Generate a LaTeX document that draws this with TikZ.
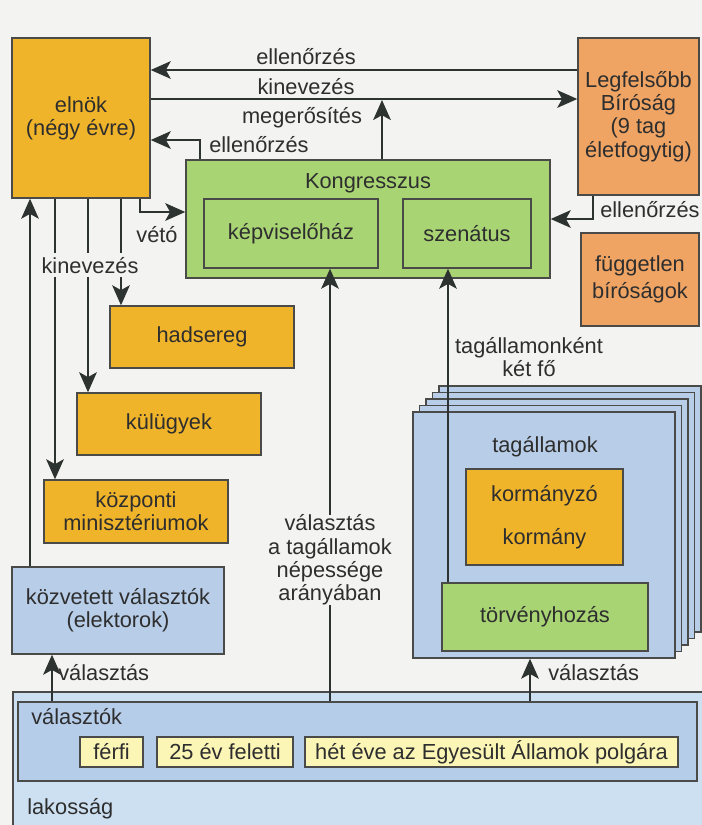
\documentclass[tikz,border=0pt]{standalone}
\usepackage{fontspec}
\setmainfont{Liberation Sans}
\usetikzlibrary{arrows.meta,fit,calc,positioning}

\definecolor{bgcol}{HTML}{F3F3F1}
\definecolor{boxline}{HTML}{4A4A48}
\definecolor{arline}{HTML}{2C3330}
\definecolor{txtcol}{HTML}{2E2E2E}
\definecolor{elyel}{HTML}{F0B42A}
\definecolor{salmon}{HTML}{EFA464}
\definecolor{congrn}{HTML}{A8D474}
\definecolor{stblue}{HTML}{B8CEE8}
\definecolor{lakblue}{HTML}{CCE0F2}
\definecolor{valblue}{HTML}{B6CDEA}
\definecolor{pale}{HTML}{FBF5B6}

\tikzset{
	box/.style={draw=boxline, line width=1pt, inner sep=0pt},
	yel/.style={box, fill=elyel},
	sal/.style={box, fill=salmon},
	grn/.style={box, fill=congrn},
	blu/.style={box, fill=stblue},
	lakbox/.style={box, fill=lakblue},
	valbox/.style={box, fill=valblue},
	palebox/.style={box, fill=pale},
	stackbox/.style={draw=boxline, line width=1pt, fill=stblue},
	lbl/.style={inner sep=0pt, align=center, text=txtcol},
	in/.style={label={[lbl]center:#1}},
	ln/.style={draw=arline, line width=1.4pt},
	arr/.style={ln, -{Stealth[length=5mm,width=4.4mm,inset=1.2mm]}}
}

\begin{document}
\begin{tikzpicture}[x=0.025cm,y=-0.025cm,font=\fontsize{15.5}{16.5}\selectfont]
	\fill[bgcol] (0,0) rectangle (702,825);
	\useasboundingbox (0,0) rectangle (702,825);

	% population
	\node[lakbox, fit={(13,692) (706,830)}]		(lak) {};
	\node[lbl, anchor=base west] at (27,814)		{lakosság};
	\node[valbox, fit={(18,702) (697,781)}]		(valasztok) {};
	\node[lbl, anchor=base west] at (31,724)		{választók};
	\node[palebox, fit={(80,737) (143,767)}, in=férfi]			(ferfi) {};
	\node[palebox, fit={(157,737) (293,767)}, in=25 év feletti]	(kor) {};
	\node[palebox, fit={(305,737) (678,767)}, in=hét éve az Egyesült Államok polgára]	(polgar) {};

	% president
	\node[yel, fit={(12,38) (150,198)}, in={elnök\\(négy évre)}]		(elnok) {};
	\node[yel, fit={(110,306) (294,368)}, in=hadsereg]				(hadsereg) {};
	\node[yel, fit={(77,393) (261,455)}, in=külügyek]				(kulugy) {};
	\node[yel, fit={(44,480) (228,543)}, in={központi\\minisztériumok}]	(kozp) {};
	\node[blu, fit={(12,567) (224,654)}, in={közvetett választók\\(elektorok)}]	(elektor) {};

	% congress
	\node[grn, fit={(186,160) (550,278)}]						(kongr) {};
	\node[lbl] at (368,183)										{Kongresszus};
	\node[grn, fit={(204,199) (378,268)}, in=képviselőház]	(kepv) {};
	\node[grn, fit={(403,199) (531,268)}, in=szenátus]		(szen) {};

	% courts
	\node[sal, fit={(578,38) (699,195)}, in={Legfelsőbb\\Bíróság\\(9 tag\\életfogytig)}]	(legf) {};
	\node[sal, fit={(581,233) (699,326)}, in={független\\[3pt]bíróságok}]	(fugg) {};

	% states
	\foreach \k in {4,3,2,1}
		\draw[stackbox] (413+6.5*\k,412-6.5*\k) rectangle (675+6.5*\k,658-6.5*\k);
	\node[blu, fit={(413,412) (675,658)}]	(tag) {};
	\node[lbl] at (545,447)					{tagállamok};
	\node[yel, fit={(466,469) (623,565)}, in={kormányzó\\[14pt]kormány}]	(korm) {};
	\node[grn, fit={(442,583) (648,651)}, in=törvényhozás]	(torv) {};

	% connectors
	\coordinate (meg) at (382,100);
	\node[lbl] (arany) at (330,560) {választás\\a tagállamok\\népessége\\arányában};
	\node[lbl] (ketfo) at (529,357) {tagállamonként\\két fő};

	\draw[arr] (legf.west |- 0,70) -- (elnok.east |- 0,70);
	\draw[arr] (elnok.east |- 0,99) -- (legf.west |- 0,99);
	\draw[arr] (kongr.north -| meg) -- (meg);
	\draw[arr] (kongr.north -| 200,0) |- (elnok.east |- 0,140);
	\draw[arr] (elnok.south -| 140,0) |- (kongr.west |- 0,212);
	\draw[arr] (legf.south -| 593,0) |- (kongr.east |- 0,219);
	\draw[arr] (elnok.south -| 121,0) -- (hadsereg.north -| 121,0);
	\draw[arr] (elnok.south -| 88,0) -- (kulugy.north -| 88,0);
	\draw[arr] (elnok.south -| 55,0) -- (kozp.north -| 55,0);
	\draw[arr] (elektor.north -| 30,0) -- (elnok.south -| 30,0);
	\draw[arr] (valasztok.north -| 52,0) -- (elektor.south -| 52,0);
	\draw[ln] (valasztok.north -| arany.south) -- (arany.south);
	\draw[arr] (arany.north) -- (kepv.south -| arany.north);
	\draw[arr] (torv.north -| 448,0) -- (szen.south -| 448,0);
	\draw[arr] (valasztok.north -| 530,0) -- (tag.south -| 530,0);

	% labels
	\node[lbl, anchor=base] at (306,64)			{ellenőrzés};
	\node[lbl, anchor=base] at (306,94)			{kinevezés};
	\node[lbl, anchor=base] at (302,123)		{megerősítés};
	\node[lbl, anchor=base west] at (209,152)	{ellenőrzés};
	\node[lbl, anchor=base] at (157,242)		{vétó};
	\node[lbl, anchor=base, fill=bgcol, inner ysep=3pt] at (90,273)	{kinevezés};
	\node[lbl, anchor=base west] at (600,217)	{ellenőrzés};
	\node[lbl, anchor=base west] at (58,680)	{választás};
	\node[lbl, anchor=base west] at (548,680)	{választás};
\end{tikzpicture}
\end{document}
